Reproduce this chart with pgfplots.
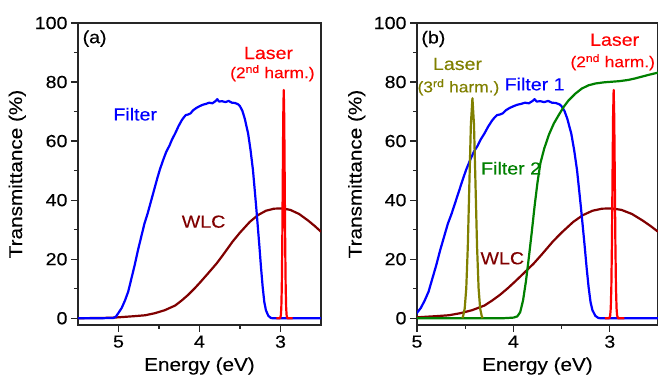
\documentclass[border=0pt]{standalone}
\usepackage{fontspec}
\setmainfont{Liberation Sans}[FakeStretch=1.12, FakeBold=0.25]
\usepackage{pgfplots}
\usepackage{pgfplotstable}
\pgfplotsset{compat=1.18}
\definecolor{cblue}{RGB}{0,0,255}
\definecolor{cwlc}{RGB}{128,0,0}
\definecolor{cred}{RGB}{255,0,0}
\definecolor{colive}{RGB}{128,128,0}
\definecolor{cgreen}{RGB}{0,128,0}

\pgfplotstableread{
E T
5.50 0.0
5.20 0.0
5.06 0.1
5.03 0.6
5.00 1.8
4.96 3.5
4.92 6.0
4.88 9.0
4.84 13.5
4.80 18.0
4.76 23.0
4.72 27.5
4.68 32.0
4.64 35.5
4.60 39.5
4.56 43.5
4.52 47.5
4.49 50.3
4.45 53.5
4.41 56.4
4.37 58.5
4.34 60.5
4.30 62.6
4.26 65.0
4.22 67.0
4.20 67.8
4.17 68.8
4.14 69.0
4.11 69.4
4.08 70.4
4.04 71.2
4.00 71.8
3.96 72.3
3.92 72.6
3.88 73.0
3.84 72.8
3.80 73.6
3.78 74.2
3.76 73.4
3.72 73.5
3.68 73.2
3.64 73.6
3.60 73.0
3.56 72.9
3.52 72.4
3.50 71.8
3.47 70.2
3.44 67.5
3.42 65.0
3.40 62.6
3.37 57.0
3.34 50.2
3.32 44.0
3.30 37.7
3.28 31.0
3.26 24.2
3.24 17.0
3.22 10.6
3.20 5.5
3.18 2.7
3.15 0.8
3.12 0.1
3.10 0.0
2.50 0.0
}\filterone

\pgfplotstableread{
E T
5.50 0.0
5.30 0.05
5.10 0.15
5.00 0.3
4.90 0.5
4.80 0.7
4.67 1.0
4.55 1.7
4.43 2.7
4.30 4.3
4.22 6.0
4.14 7.9
4.06 10.1
3.99 12.2
3.90 15.0
3.79 18.5
3.70 21.8
3.59 26.0
3.50 29.0
3.38 32.6
3.28 34.9
3.18 36.4
3.08 37.1
2.98 37.2
2.88 36.7
2.77 35.3
2.66 33.1
2.58 31.3
2.50 29.3
}\wlc

\pgfplotstableread{
E T
3.05 0.0
3.005 0.0
2.996 0.9
2.990 3.4
2.984 10.5
2.978 25.1
2.972 46.9
2.966 68.2
2.960 77.3
2.954 68.2
2.948 46.9
2.942 25.1
2.936 10.5
2.930 3.4
2.924 0.9
2.915 0.0
2.85 0.0
}\lasertwo

\pgfplotstableread{
E T
4.53 0.0
4.521 0.8
4.505 3.3
4.489 10.1
4.473 24.2
4.457 45.2
4.441 65.7
4.425 74.5
4.409 65.7
4.393 45.2
4.377 24.2
4.361 10.1
4.345 3.3
4.329 0.8
4.32 0.0
}\laserthree

\pgfplotstableread{
E T
5.00 0.0
4.10 0.0
4.00 0.2
3.96 0.6
3.93 2.0
3.90 6.0
3.87 12.5
3.84 20.5
3.81 29.0
3.78 38.0
3.75 46.0
3.72 52.5
3.68 57.5
3.63 62.3
3.58 66.0
3.53 68.8
3.48 71.5
3.43 73.7
3.36 76.0
3.29 77.8
3.22 78.9
3.15 79.5
3.06 79.9
2.98 80.1
2.90 80.3
2.81 80.7
2.74 81.2
2.67 81.8
2.60 82.4
2.50 83.2
}\filtertwo

\tikzset{
  anno/.style={font=\fontsize{17.5}{17.5}\selectfont, inner sep=0pt, anchor=center},
  annos/.style={font=\fontsize{15.5}{15.5}\selectfont, inner sep=0pt, anchor=center},
}
\pgfplotsset{myax/.style={
  scale only axis, height=302pt,
  x dir=reverse, ymin=-2.3, ymax=100, xmin=2.5,
  xtick={3,4,5}, minor x tick num=1,
  ytick={0,20,...,100}, minor y tick num=1,
  tick pos=left, tick align=outside,
  major tick length=7pt, minor tick length=4pt,
  axis line style={line width=1.3pt, black!85},
  every tick/.style={line width=1.2pt, black!85},
  tick label style={font=\fontsize{17.5}{17.5}\selectfont},
  label style={font=\fontsize{18.5}{18.5}\selectfont},
  /pgf/number format/assume math mode=true,
  ylabel={Transmittance (\%)}, xlabel={Energy (eV)},
  xlabel style={at={(axis description cs:0.5,-0.136)}, anchor=center},
  ylabel style={at={(axis description cs:-0.25,0.5)}, anchor=center},
  every axis plot/.append style={line width=2.2pt, line join=round},
}}

\begin{document}
\begin{tikzpicture}
\useasboundingbox (-78pt,-54pt) rectangle (580pt,325pt);
\begin{axis}[myax, at={(0pt,0pt)}, anchor=south west, width=243pt, xmax=5.5]
\addplot[cwlc, no markers] table[x=E,y=T] {\wlc};
\addplot[cblue, no markers] table[x=E,y=T] {\filterone};
\addplot[cred, no markers] table[x=E,y=T] {\lasertwo};
\node[anno, text=black] at (axis cs:5.295,94.7) {(a)};
\node[anno, text=cred] at (axis cs:3.148,89.8) {Laser};
\node[annos, text=cred] at (axis cs:3.10,83.0) {(2\textsuperscript{nd} harm.)};
\node[anno, text=cblue] at (axis cs:4.794,69.1) {Filter};
\node[anno, text=cwlc] at (axis cs:3.95,32.7) {WLC};
\end{axis}
\begin{axis}[myax, at={(339pt,0pt)}, anchor=south west, width=241pt, xmax=5]
\addplot[cwlc, no markers] table[x=E,y=T] {\wlc};
\addplot[cblue, no markers] table[x=E,y=T] {\filterone};
\addplot[cgreen, no markers] table[x=E,y=T] {\filtertwo};
\addplot[colive, no markers] table[x=E,y=T] {\laserthree};
\addplot[cred, no markers] table[x=E,y=T] {\lasertwo};
\node[anno, text=black] at (axis cs:4.83,94.6) {(b)};
\node[anno, text=colive] at (axis cs:4.58,86.1) {Laser};
\node[annos, text=colive] at (axis cs:4.57,78.2) {(3\textsuperscript{rd} harm.)};
\node[anno, text=cblue] at (axis cs:3.78,79.3) {Filter 1};
\node[anno, text=cred] at (axis cs:2.95,94.3) {Laser};
\node[annos, text=cred] at (axis cs:2.97,86.7) {(2\textsuperscript{nd} harm.)};
\node[anno, text=cgreen] at (axis cs:4.024,50.8) {Filter 2};
\node[anno, text=cwlc] at (axis cs:4.115,20.3) {WLC};
\end{axis}
\end{tikzpicture}
\end{document}
